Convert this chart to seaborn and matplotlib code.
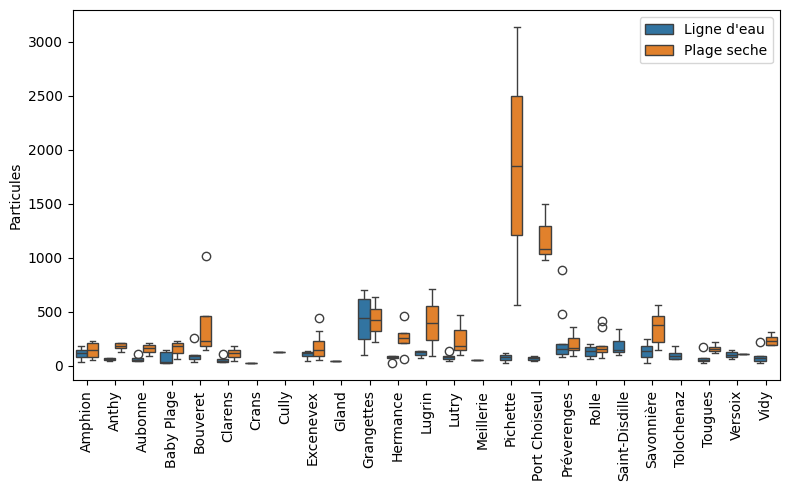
import matplotlib
matplotlib.use("Agg")
import matplotlib.pyplot as plt
import seaborn as sns
import pandas as pd

sites = ["Amphion", "Anthy", "Aubonne", "Baby Plage", "Bouveret", "Clarens", "Crans",
         "Cully", "Excenevex", "Gland", "Grangettes", "Hermance", "Lugrin", "Lutry",
         "Meillerie", "Pichette", "Port Choiseul", "Préverenges", "Rolle",
         "Saint-Disdille", "Savonnière", "Tolochenaz", "Tougues", "Versoix", "Vidy"]

hue_levels = ["Ligne d'eau", "Plage seche"]

ligne_eau = [
    [37, 84, 118, 146, 186],
    [48, 52, 60, 68, 72],
    [46, 48, 58, 70, 110],
    [25, 28, 32, 125, 146],
    [37, 62, 87, 102, 262],
    [31, 38, 48, 62, 108],
    [28],
    [125],
    [46, 90, 115, 130, 139],
    [40],
    [99, 248, 443, 619, 703],
    [22, 68, 68, 72, 78, 85, 92, 92, 92],
    [71, 102, 130, 139, 139],
    [46, 62, 77, 88, 135],
    [58],
    [25, 53, 77, 99, 118],
    [45, 53, 68, 84, 90],
    [84, 100, 108, 130, 155, 180, 201, 480, 889],
    [62, 93, 133, 170, 201],
    [99, 130, 146, 232, 341],
    [25, 77, 133, 179, 248],
    [62, 62, 93, 118, 186],
    [25, 40, 56, 71, 176],
    [62, 77, 99, 124, 146],
    [25, 46, 68, 93, 223],
]

plage_seche = [
    [56, 77, 146, 211, 232],
    [130, 165, 185, 210, 215],
    [93, 130, 161, 192, 214],
    [62, 118, 186, 207, 232],
    [149, 179, 232, 464, 1015],
    [46, 77, 118, 146, 186],
    [],
    [],
    [53, 70, 90, 120, 146, 190, 225, 325, 445],
    [],
    [216, 325, 424, 526, 641],
    [62, 211, 211, 230, 254, 280, 300, 300, 464],
    [93, 238, 397, 557, 712],
    [99, 146, 186, 331, 474],
    [],
    [567, 1208, 1851, 2494, 3136],
    [982, 1031, 1078, 1291, 1496],
    [90, 146, 161, 257, 362],
    [71, 110, 130, 140, 155, 170, 186, 362, 412],
    [],
    [146, 223, 381, 458, 567],
    [],
    [118, 133, 155, 170, 223],
    [108],
    [195, 195, 230, 263, 310],
]

rows = []
for site, vals in zip(sites, ligne_eau):
    for v in vals:
        rows.append((site, hue_levels[0], v))
for site, vals in zip(sites, plage_seche):
    for v in vals:
        rows.append((site, hue_levels[1], v))
df = pd.DataFrame(rows, columns=["Plage", "Type", "Particules"])

fig, ax = plt.subplots(figsize=(7.9, 4.9), dpi=100)
sns.boxplot(data=df, x="Plage", y="Particules", hue="Type", order=sites,
            hue_order=hue_levels, ax=ax)
ax.set_xlabel("")
ax.set_ylabel("Particules")
ax.tick_params(axis="x", rotation=90)
leg = ax.legend(loc="upper right", title=None)
fig.subplots_adjust(left=0.092, right=0.987, top=0.979, bottom=0.224)
fig.savefig("out.png", dpi=100)
